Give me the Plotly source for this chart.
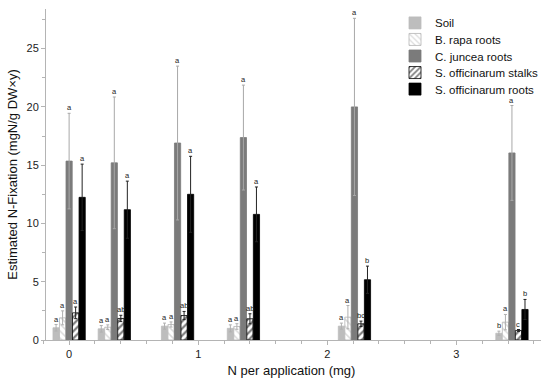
import plotly.graph_objects as go

# ---- data ----
n_per_app = [0, 0.35, 0.84, 1.35, 2.21, 3.43]

series_names = ["Soil", "B. rapa roots", "C. juncea roots",
                "S. officinarum stalks", "S. officinarum roots"]

soil = [1.05, 0.96, 1.19, 1.00, 1.19, 0.58]
soil_err = [0.28, 0.28, 0.26, 0.30, 0.26, 0.18]
soil_lbl = ["a", "a", "a", "a", "a", "b"]

brapa = [1.90, 1.10, 1.33, 1.16, 1.96, 1.53]
brapa_err = [0.60, 0.20, 0.22, 0.24, 1.00, 0.66]
brapa_lbl = ["a", "a", "a", "a", "a", "a"]

cjuncea = [15.35, 15.20, 16.90, 17.37, 20.00, 16.05]
cjuncea_err = [4.10, 5.65, 6.60, 4.50, 7.60, 4.07]
cjuncea_lbl = ["a", "a", "a", "a", "a", "a"]

stalks = [2.33, 1.85, 2.10, 1.82, 1.39, 0.82]
stalks_err = [0.50, 0.27, 0.35, 0.43, 0.23, 0.08]
stalks_lbl = ["a", "ab", "ab", "ab", "bc", "c"]

roots = [12.24, 11.18, 12.50, 10.78, 5.17, 2.62]
roots_err = [2.85, 2.45, 3.26, 2.35, 1.17, 0.86]
roots_lbl = ["a", "a", "a", "a", "b", "b"]

values = [soil, brapa, cjuncea, stalks, roots]
errors = [soil_err, brapa_err, cjuncea_err, stalks_err, roots_err]
labels = [soil_lbl, brapa_lbl, cjuncea_lbl, stalks_lbl, roots_lbl]

# ---- styles ----
fills = ["#bdbdbd", "white", "#7b7b7b", "white", "#000000"]
patterns = [None, dict(shape="\\", fgcolor="#b5b5b5", bgcolor="white", size=5, solidity=0.3),
            None, dict(shape="/", fgcolor="#000000", bgcolor="white", size=5, solidity=0.45),
            None]
borders = ["#bdbdbd", "#b5b5b5", "#7b7b7b", "#000000", "#000000"]
err_colors = ["#b0b0b0", "#b0b0b0", "#a8a8a8", "#222222", "#222222"]

bar_w = 0.048
step = 0.0505
FONT = "Liberation Sans, Arial, sans-serif"

# one single-entry legend per series, stacked with the reference's tighter spacing
legend_ids = ["legend", "legend2", "legend3", "legend4", "legend5"]
legend_y = [0.958, 0.908, 0.858, 0.808, 0.758]

fig = go.Figure()
annotations = []
for i, name in enumerate(series_names):
    off = (i - 2) * step - bar_w / 2
    marker = dict(color=fills[i], line=dict(color=borders[i], width=0.8))
    if patterns[i] is not None:
        marker["pattern"] = patterns[i]
    fig.add_trace(go.Bar(
        name=name, x=n_per_app, y=values[i], width=bar_w, offset=off,
        marker=marker, legend=legend_ids[i],
        error_y=dict(type="data", array=errors[i], visible=True,
                     color=err_colors[i], thickness=1, width=1.5),
    ))
    for xv, v, e, t in zip(n_per_app, values[i], errors[i], labels[i]):
        annotations.append(dict(
            x=xv + off + bar_w / 2, y=v + e, text=t, showarrow=False,
            yanchor="bottom", yshift=-1, xref="x", yref="y",
            font=dict(size=7.5, color="#222222", family=FONT),
        ))

legend_layout = {}
for lid, ly in zip(legend_ids, legend_y):
    legend_layout[lid] = dict(x=0.706, y=ly, xanchor="left", yanchor="middle",
                              font=dict(size=11.5, color="#111111"),
                              bgcolor="rgba(0,0,0,0)")

axis_col = "#b4b4b4"
fig.update_layout(
    width=550, height=382,
    margin=dict(l=42, r=8, t=9, b=42),
    paper_bgcolor="white", plot_bgcolor="white",
    font=dict(family=FONT, color="#222222"),
    showlegend=True,
    annotations=annotations,
    xaxis=dict(range=[-0.21, 3.655], tickvals=[0, 1, 2, 3], ticks="outside",
               ticklen=4, tickcolor=axis_col, showline=True, linecolor=axis_col,
               linewidth=1, showgrid=False, zeroline=False,
               minor=dict(dtick=0.2, tick0=0, ticks="outside", ticklen=3, tickcolor=axis_col),
               tickfont=dict(size=11, color="#222222"),
               title=dict(text="N per application (mg)", font=dict(size=13, color="#111111"),
                          standoff=6)),
    yaxis=dict(range=[0, 28.4], tickvals=[0, 5, 10, 15, 20, 25], ticks="outside",
               ticklen=4, tickcolor=axis_col, showline=True, linecolor=axis_col,
               linewidth=1, showgrid=False, zeroline=False,
               anchor="free", position=0.006,
               minor=dict(dtick=2.5, tick0=0, ticks="outside", ticklen=3, tickcolor=axis_col),
               tickfont=dict(size=11, color="#222222"),
               title=dict(text="Estimated N-Fixation (mgN/g DW×y)",
                          font=dict(size=13, color="#111111"), standoff=4)),
    **legend_layout,
)

fig.write_html("out.html", config={"displayModeBar": False},
               post_script="document.body.style.margin='0';document.body.style.overflow='hidden';")
